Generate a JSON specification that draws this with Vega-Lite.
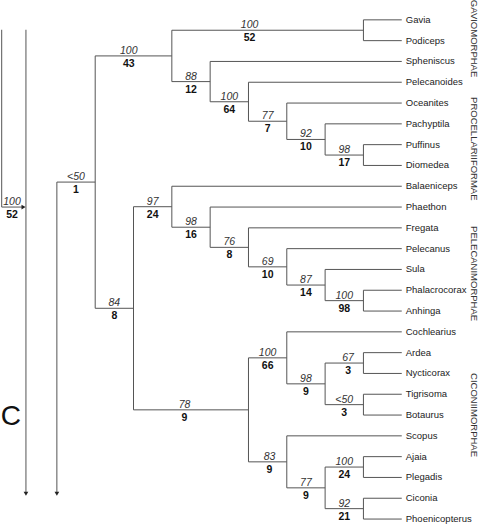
{
  "$schema": "https://vega.github.io/schema/vega-lite/v6.json",
  "width": 480,
  "height": 524,
  "autosize": {"type": "fit", "contains": "padding"},
  "padding": 0,
  "config": {"view": {"stroke": null}, "font": "Liberation Sans"},
  "datasets": {
    "segments": [
      {"x": 0, "x2": 1, "y": 7.8, "y2": 7.8},
      {"x": 1, "x2": 3, "y": 1.734, "y2": 1.734},
      {"x": 3, "x2": 8, "y": 0.5, "y2": 0.5},
      {"x": 3, "x2": 4, "y": 2.969, "y2": 2.969},
      {"x": 4, "x2": 5, "y": 3.938, "y2": 3.938},
      {"x": 5, "x2": 6, "y": 4.875, "y2": 4.875},
      {"x": 6, "x2": 7, "y": 5.75, "y2": 5.75},
      {"x": 7, "x2": 8, "y": 6.5, "y2": 6.5},
      {"x": 1, "x2": 2, "y": 13.867, "y2": 13.867},
      {"x": 2, "x2": 3, "y": 8.984, "y2": 8.984},
      {"x": 3, "x2": 4, "y": 9.969, "y2": 9.969},
      {"x": 4, "x2": 5, "y": 10.938, "y2": 10.938},
      {"x": 5, "x2": 6, "y": 11.875, "y2": 11.875},
      {"x": 6, "x2": 7, "y": 12.75, "y2": 12.75},
      {"x": 7, "x2": 8, "y": 13.5, "y2": 13.5},
      {"x": 2, "x2": 5, "y": 18.75, "y2": 18.75},
      {"x": 5, "x2": 6, "y": 16.25, "y2": 16.25},
      {"x": 6, "x2": 7, "y": 17.5, "y2": 17.5},
      {"x": 7, "x2": 8, "y": 16.5, "y2": 16.5},
      {"x": 7, "x2": 8, "y": 18.5, "y2": 18.5},
      {"x": 5, "x2": 6, "y": 21.25, "y2": 21.25},
      {"x": 6, "x2": 7, "y": 22.5, "y2": 22.5},
      {"x": 7, "x2": 8, "y": 21.5, "y2": 21.5},
      {"x": 7, "x2": 8, "y": 23.5, "y2": 23.5},
      {"x": 1, "x2": 1, "y": 1.734, "y2": 13.867},
      {"x": 3, "x2": 3, "y": 0.5, "y2": 2.969},
      {"x": 8, "x2": 8, "y": 0, "y2": 1},
      {"x": 4, "x2": 4, "y": 2, "y2": 3.938},
      {"x": 5, "x2": 5, "y": 3, "y2": 4.875},
      {"x": 6, "x2": 6, "y": 4, "y2": 5.75},
      {"x": 7, "x2": 7, "y": 5, "y2": 6.5},
      {"x": 8, "x2": 8, "y": 6, "y2": 7},
      {"x": 2, "x2": 2, "y": 8.984, "y2": 18.75},
      {"x": 3, "x2": 3, "y": 8, "y2": 9.969},
      {"x": 4, "x2": 4, "y": 9, "y2": 10.938},
      {"x": 5, "x2": 5, "y": 10, "y2": 11.875},
      {"x": 6, "x2": 6, "y": 11, "y2": 12.75},
      {"x": 7, "x2": 7, "y": 12, "y2": 13.5},
      {"x": 8, "x2": 8, "y": 13, "y2": 14},
      {"x": 5, "x2": 5, "y": 16.25, "y2": 21.25},
      {"x": 6, "x2": 6, "y": 15, "y2": 17.5},
      {"x": 7, "x2": 7, "y": 16.5, "y2": 18.5},
      {"x": 8, "x2": 8, "y": 16, "y2": 17},
      {"x": 8, "x2": 8, "y": 18, "y2": 19},
      {"x": 6, "x2": 6, "y": 20, "y2": 22.5},
      {"x": 7, "x2": 7, "y": 21.5, "y2": 23.5},
      {"x": 8, "x2": 8, "y": 21, "y2": 22},
      {"x": 8, "x2": 8, "y": 23, "y2": 24},
      {"x": 0, "x2": 0, "y": 7.8, "y2": 22.7},
      {"x": -0.807, "x2": -0.807, "y": 0.476, "y2": 22.7},
      {"x": -1.44, "x2": -1.44, "y": 0.476, "y2": 9.0},
      {"x": -1.44, "x2": -0.9, "y": 9.0, "y2": 9.0}
    ],
    "arrows": [
      {"x": 0, "y": 22.78, "dir": "down"},
      {"x": -0.807, "y": 22.78, "dir": "down"},
      {"x": -0.87, "y": 9.0, "dir": "right"}
    ],
    "taxa": [
      {"taxon": "Gavia", "y": 0, "from": 8},
      {"taxon": "Podiceps", "y": 1, "from": 8},
      {"taxon": "Spheniscus", "y": 2, "from": 4},
      {"taxon": "Pelecanoides", "y": 3, "from": 5},
      {"taxon": "Oceanites", "y": 4, "from": 6},
      {"taxon": "Pachyptila", "y": 5, "from": 7},
      {"taxon": "Puffinus", "y": 6, "from": 8},
      {"taxon": "Diomedea", "y": 7, "from": 8},
      {"taxon": "Balaeniceps", "y": 8, "from": 3},
      {"taxon": "Phaethon", "y": 9, "from": 4},
      {"taxon": "Fregata", "y": 10, "from": 5},
      {"taxon": "Pelecanus", "y": 11, "from": 6},
      {"taxon": "Sula", "y": 12, "from": 7},
      {"taxon": "Phalacrocorax", "y": 13, "from": 8},
      {"taxon": "Anhinga", "y": 14, "from": 8},
      {"taxon": "Cochlearius", "y": 15, "from": 6},
      {"taxon": "Ardea", "y": 16, "from": 8},
      {"taxon": "Nycticorax", "y": 17, "from": 8},
      {"taxon": "Tigrisoma", "y": 18, "from": 8},
      {"taxon": "Botaurus", "y": 19, "from": 8},
      {"taxon": "Scopus", "y": 20, "from": 6},
      {"taxon": "Ajaia", "y": 21, "from": 8},
      {"taxon": "Plegadis", "y": 22, "from": 8},
      {"taxon": "Ciconia", "y": 23, "from": 8},
      {"taxon": "Phoenicopterus", "y": 24, "from": 8}
    ],
    "support": [
      {"top": "<50", "bottom": "1", "x": 0.5, "y": 7.8},
      {"top": "100", "bottom": "43", "x": 1.875, "y": 1.734},
      {"top": "100", "bottom": "52", "x": 5.03, "y": 0.5},
      {"top": "88", "bottom": "12", "x": 3.5, "y": 2.969},
      {"top": "100", "bottom": "64", "x": 4.5, "y": 3.938},
      {"top": "77", "bottom": "7", "x": 5.5, "y": 4.875},
      {"top": "92", "bottom": "10", "x": 6.5, "y": 5.75},
      {"top": "98", "bottom": "17", "x": 7.5, "y": 6.5},
      {"top": "84", "bottom": "8", "x": 1.5, "y": 13.867},
      {"top": "97", "bottom": "24", "x": 2.5, "y": 8.984},
      {"top": "98", "bottom": "16", "x": 3.5, "y": 9.969},
      {"top": "76", "bottom": "8", "x": 4.5, "y": 10.938},
      {"top": "69", "bottom": "10", "x": 5.5, "y": 11.875},
      {"top": "87", "bottom": "14", "x": 6.5, "y": 12.75},
      {"top": "100", "bottom": "98", "x": 7.5, "y": 13.5},
      {"top": "78", "bottom": "9", "x": 3.33, "y": 18.75},
      {"top": "100", "bottom": "66", "x": 5.5, "y": 16.25},
      {"top": "98", "bottom": "9", "x": 6.5, "y": 17.5},
      {"top": "67", "bottom": "3", "x": 7.6, "y": 16.5},
      {"top": "<50", "bottom": "3", "x": 7.5, "y": 18.5},
      {"top": "83", "bottom": "9", "x": 5.55, "y": 21.25},
      {"top": "77", "bottom": "9", "x": 6.5, "y": 22.5},
      {"top": "100", "bottom": "24", "x": 7.5, "y": 21.5},
      {"top": "92", "bottom": "21", "x": 7.5, "y": 23.5},
      {"top": "100", "bottom": "52", "x": -1.17, "y": 9.0}
    ],
    "groups": [
      {"group": "GAVIOMORPHAE", "y": 0.9},
      {"group": "PROCELLARIIFORMAE", "y": 6.2},
      {"group": "PELECANIMORPHAE", "y": 12.2},
      {"group": "CICONIIMORPHAE", "y": 19.0}
    ],
    "panel": [
      {"letter": "C", "x": -1.2, "y": 19.1}
    ]
  },
  "layer": [
    {
      "data": {"name": "segments"},
      "mark": {"type": "rule", "color": "#555555", "strokeWidth": 1},
      "encoding": {
        "x": {"field": "x", "type": "quantitative", "scale": {"domain": [-1.458, 11.042], "nice": false, "zero": false}, "axis": null},
        "x2": {"field": "x2"},
        "y": {"field": "y", "type": "quantitative", "scale": {"domain": [-0.762, 24.19], "nice": false, "zero": false, "reverse": true}, "axis": null},
        "y2": {"field": "y2"}
      }
    },
    {
      "data": {"name": "taxa"},
      "mark": {"type": "rule", "color": "#555555", "strokeWidth": 1},
      "encoding": {
        "x": {"field": "from", "type": "quantitative"},
        "x2": {"datum": 9},
        "y": {"field": "y", "type": "quantitative"}
      }
    },
    {
      "data": {"name": "arrows"},
      "mark": {"type": "point", "filled": true, "color": "#222222", "size": 22, "opacity": 1},
      "encoding": {
        "x": {"field": "x", "type": "quantitative"},
        "y": {"field": "y", "type": "quantitative"},
        "shape": {"field": "dir", "type": "nominal", "scale": {"domain": ["down", "right"], "range": ["triangle-down", "triangle-right"]}, "legend": null}
      }
    },
    {
      "data": {"name": "taxa"},
      "mark": {"type": "text", "align": "left", "baseline": "middle", "dx": 4, "fontSize": 9.5, "color": "#222222", "font": "Liberation Sans"},
      "encoding": {
        "x": {"datum": 9},
        "y": {"field": "y", "type": "quantitative"},
        "text": {"field": "taxon"}
      }
    },
    {
      "data": {"name": "support"},
      "mark": {"type": "text", "align": "center", "baseline": "alphabetic", "dy": -2, "fontSize": 10.5, "fontStyle": "italic", "color": "#333333", "font": "Liberation Sans"},
      "encoding": {
        "x": {"field": "x", "type": "quantitative"},
        "y": {"field": "y", "type": "quantitative"},
        "text": {"field": "top"}
      }
    },
    {
      "data": {"name": "support"},
      "mark": {"type": "text", "align": "center", "baseline": "top", "dy": 3, "fontSize": 10.5, "fontWeight": "bold", "color": "#111111", "font": "Liberation Sans"},
      "encoding": {
        "x": {"field": "x", "type": "quantitative"},
        "y": {"field": "y", "type": "quantitative"},
        "text": {"field": "bottom"}
      }
    },
    {
      "data": {"name": "groups"},
      "mark": {"type": "text", "align": "center", "baseline": "middle", "angle": 90, "fontSize": 9.5, "color": "#333333", "font": "Liberation Sans"},
      "encoding": {
        "x": {"datum": 10.88},
        "y": {"field": "y", "type": "quantitative"},
        "text": {"field": "group"}
      }
    },
    {
      "data": {"name": "panel"},
      "mark": {"type": "text", "align": "center", "baseline": "middle", "fontSize": 28, "color": "#111111", "font": "Liberation Sans"},
      "encoding": {
        "x": {"field": "x", "type": "quantitative"},
        "y": {"field": "y", "type": "quantitative"},
        "text": {"field": "letter"}
      }
    }
  ]
}
